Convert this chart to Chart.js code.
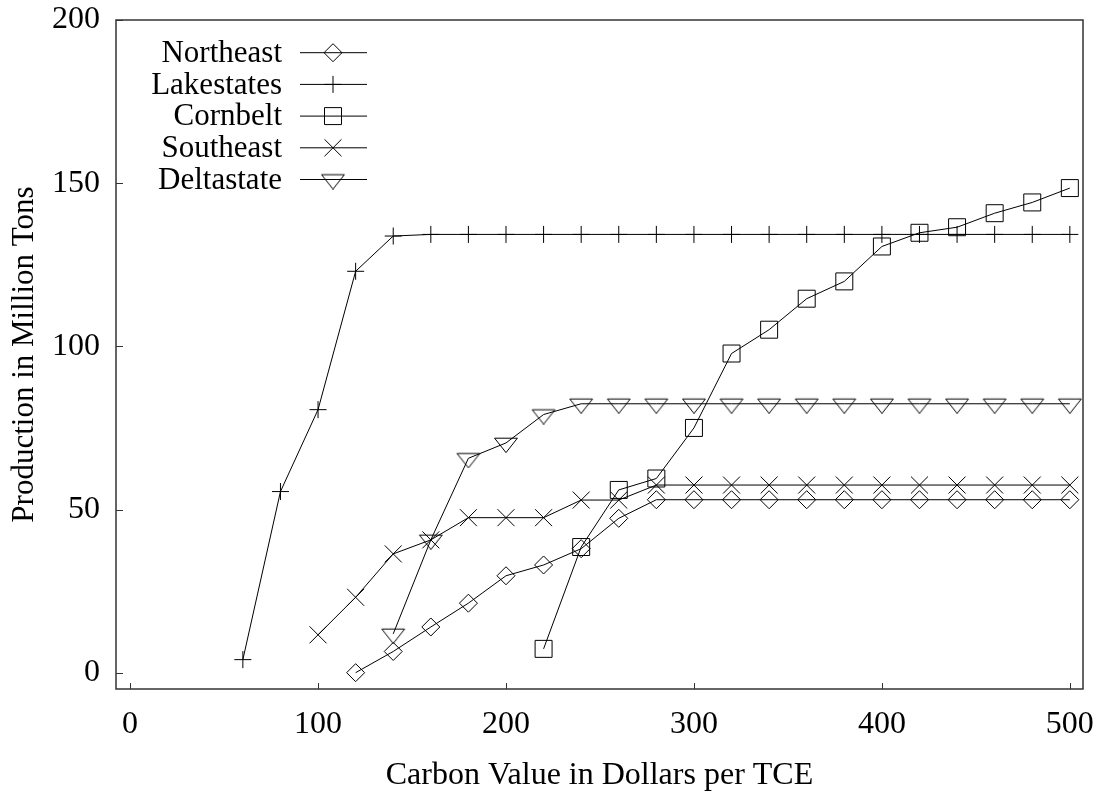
<!DOCTYPE html>
<html>
<head>
<meta charset="utf-8">
<script src="https://cdn.jsdelivr.net/npm/chart.js@4.4.0/dist/chart.umd.min.js"></script>
<style>
  html, body { margin: 0; padding: 0; background: #fff; }
  #chart { display: block; }
</style>
</head>
<body>
<canvas id="chart" width="1102" height="791"></canvas>
<script>
// carbon value (dollars per TCE) -> production (million tons), one pair of arrays per region
const northeastX = [120, 140, 160, 180, 200, 220, 240, 260, 280, 300, 320, 340, 360, 380, 400, 420, 440, 460, 480, 500];
const northeastY = [0, 6.5, 14, 21.3, 29.7, 33, 38, 47.3, 53, 53, 53, 53, 53, 53, 53, 53, 53, 53, 53, 53];

const lakestatesX = [60, 80, 100, 120, 140, 160, 180, 200, 220, 240, 260, 280, 300, 320, 340, 360, 380, 400, 420, 440, 460, 480, 500];
const lakestatesY = [4, 55.5, 80.6, 123, 133.8, 134.3, 134.3, 134.3, 134.3, 134.3, 134.3, 134.3, 134.3, 134.3, 134.3, 134.3, 134.3, 134.3, 134.3, 134.3, 134.3, 134.3, 134.3];

const cornbeltX = [220, 240, 260, 280, 300, 320, 340, 360, 380, 400, 420, 440, 460, 480, 500];
const cornbeltY = [7.3, 38.5, 56, 59.5, 75, 97.8, 105.1, 114.6, 119.9, 130.6, 134.8, 136.5, 140.8, 144.1, 148.5];

const southeastX = [100, 120, 140, 160, 180, 200, 220, 240, 260, 280, 300, 320, 340, 360, 380, 400, 420, 440, 460, 480, 500];
const southeastY = [11.6, 23.1, 36.4, 40.7, 47.5, 47.5, 47.5, 52.9, 52.9, 57.5, 57.5, 57.5, 57.5, 57.5, 57.5, 57.5, 57.5, 57.5, 57.5, 57.5, 57.5];

const deltastateX = [140, 160, 180, 200, 220, 240, 260, 280, 300, 320, 340, 360, 380, 400, 420, 440, 460, 480, 500];
const deltastateY = [11.9, 40.7, 65.7, 70.4, 79.1, 82.4, 82.4, 82.4, 82.4, 82.4, 82.4, 82.4, 82.4, 82.4, 82.4, 82.4, 82.4, 82.4, 82.4];

const xTicks = [0, 100, 200, 300, 400, 500];
const yTicks = [0, 50, 100, 150, 200];

const FONT = '"Liberation Serif", "Times New Roman", serif';
Chart.defaults.font.family = FONT;
Chart.defaults.font.size = 32;
Chart.defaults.color = '#000';

function pts(xs, ys) {
    return xs.map((x, i) => ({ x: x, y: ys[i] }));
}

// open, point-down triangle with its centroid in the middle of the canvas
function downTriangle() {
    const c = document.createElement('canvas');
    c.width = 26;
    c.height = 20;
    const g = c.getContext('2d');
    g.strokeStyle = '#000';
    g.lineWidth = 1;
    g.beginPath();
    g.moveTo(13 - 11.4, 5.2);
    g.lineTo(13 + 11.4, 5.2);
    g.lineTo(13, 19.6);
    g.closePath();
    g.stroke();
    return c;
}

function series(label, xs, ys, style, radius) {
    return {
        label: label,
        data: pts(xs, ys),
        borderColor: '#000',
        borderWidth: 1,
        pointStyle: style,
        pointRadius: radius,
        pointHoverRadius: radius,
        pointBorderColor: '#000',
        pointBackgroundColor: 'rgba(0,0,0,0)',
        pointBorderWidth: 1,
        tension: 0,
        fill: false
    };
}

const datasets = [
    series('Northeast', northeastX, northeastY, 'rectRot', 9),
    series('Lakestates', lakestatesX, lakestatesY, 'cross', 8.5),
    series('Cornbelt', cornbeltX, cornbeltY, 'rect', 12),
    series('Southeast', southeastX, southeastY, 'crossRot', 12),
    series('Deltastate', deltastateX, deltastateY, downTriangle(), 10)
];

// box around the plot and short inward tick marks
const framePlugin = {
    id: 'frame',
    afterDraw(chart) {
        const ctx = chart.ctx;
        const a = chart.chartArea;
        ctx.save();
        ctx.strokeStyle = '#333';
        ctx.lineWidth = 1.5;
        ctx.strokeRect(a.left, a.top, a.right - a.left, a.bottom - a.top);
        ctx.lineWidth = 1;
        ctx.beginPath();
        chart.scales.x.ticks.forEach(t => {
            const px = Math.round(chart.scales.x.getPixelForValue(t.value)) + 0.5;
            ctx.moveTo(px, a.bottom);
            ctx.lineTo(px, a.bottom - 6);
        });
        chart.scales.y.ticks.forEach(t => {
            const py = Math.round(chart.scales.y.getPixelForValue(t.value)) + 0.5;
            ctx.moveTo(a.left, py);
            ctx.lineTo(a.left + 7, py);
        });
        ctx.stroke();
        ctx.restore();
    }
};

// key in the upper left: right-aligned names, then a line sample with the marker
const keyPlugin = {
    id: 'key',
    afterDatasetsDraw(chart) {
        const ctx = chart.ctx;
        const a = chart.chartArea;
        ctx.save();
        ctx.font = '31px ' + FONT;
        ctx.textAlign = 'right';
        ctx.textBaseline = 'middle';
        chart.data.datasets.forEach((ds, i) => {
            const y = a.top + 32.7 + i * 31.7;
            ctx.fillStyle = '#000';
            ctx.fillText(ds.label, a.left + 166, y + 1);
            ctx.strokeStyle = '#000';
            ctx.lineWidth = 1;
            ctx.beginPath();
            ctx.moveTo(a.left + 184, y);
            ctx.lineTo(a.left + 251, y);
            ctx.stroke();
            ctx.fillStyle = 'rgba(0,0,0,0)';
            Chart.helpers.drawPoint(ctx, {
                pointStyle: ds.pointStyle,
                radius: ds.pointRadius,
                rotation: 0,
                borderWidth: 1
            }, a.left + 217, y);
        });
        ctx.restore();
    }
};

new Chart(document.getElementById('chart').getContext('2d'), {
    type: 'line',
    data: { datasets: datasets },
    plugins: [framePlugin, keyPlugin],
    options: {
        responsive: false,
        animation: false,
        devicePixelRatio: 1,
        layout: { padding: { left: 6, right: 19, top: 20, bottom: 0 } },
        plugins: {
            legend: { display: false },
            tooltip: { enabled: false }
        },
        scales: {
            x: {
                type: 'linear',
                min: -7.5,
                max: 507,
                afterBuildTicks: s => { s.ticks = xTicks.map(v => ({ value: v })); },
                afterFit: s => {
                    s.height = 102;
                    s.paddingLeft = 0;
                    s.paddingRight = 0;
                },
                grid: { display: false, drawTicks: false },
                border: { display: false },
                ticks: { padding: 16 },
                title: {
                    display: true,
                    text: 'Carbon Value in Dollars per TCE',
                    padding: { top: 0, bottom: -4 }
                }
            },
            y: {
                type: 'linear',
                min: -5,
                max: 200,
                afterBuildTicks: s => { s.ticks = yTicks.map(v => ({ value: v })); },
                afterFit: s => {
                    s.width = 110;
                    s.paddingTop = 0;
                    s.paddingBottom = 0;
                },
                grid: { display: false, drawTicks: false },
                border: { display: false },
                ticks: { padding: 16 },
                title: {
                    display: true,
                    text: 'Production in Million Tons',
                    font: { size: 31 },
                    padding: { top: 0, bottom: 0 }
                }
            }
        }
    }
});
</script>
</body>
</html>
